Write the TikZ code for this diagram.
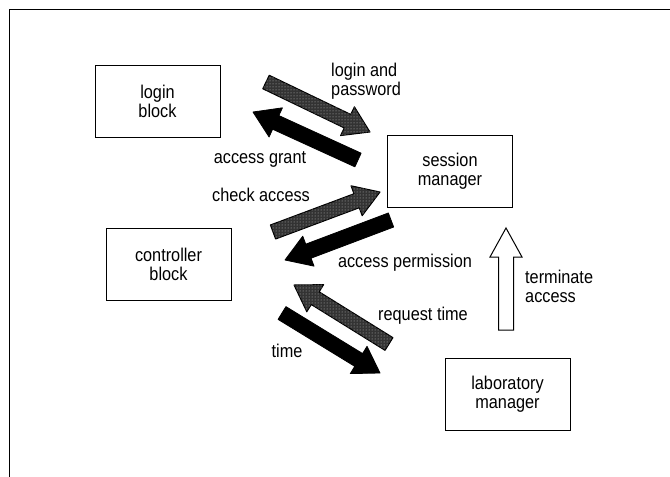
\documentclass[tikz,border=0pt]{standalone}
\usepackage{fontspec}
\setmainfont{Liberation Sans}[FakeStretch=0.88]
\usetikzlibrary{calc,patterns}
\newcommand\blockarrow[3]{%
  \path[#1] let \p1=($(#3)-(#2)$), \n1={atan2(\y1,\x1)} in
    ($(#2)+(\n1+90:\bsw)$)
    -- ($(#3)+(\n1+180:\bhl)+(\n1+90:\bsw)$)
    -- ($(#3)+(\n1+180:\bhl)+(\n1+90:\bhw)$)
    -- (#3)
    -- ($(#3)+(\n1+180:\bhl)+(\n1-90:\bhw)$)
    -- ($(#3)+(\n1+180:\bhl)+(\n1-90:\bsw)$)
    -- ($(#2)+(\n1-90:\bsw)$) -- cycle;}
\newcommand\bsw{7.5pt}
\newcommand\bhw{16pt}
\newcommand\bhl{25pt}
\begin{document}
\begin{tikzpicture}[x=1pt,y=-1pt,
  every node/.style={font=\fontsize{18.5}{19}\selectfont},
  blockbox/.style={draw=black,line width=1pt,minimum width=125pt,minimum height=72pt,align=center,inner sep=0pt},
  lbl/.style={align=left,inner sep=0pt},
  blackarrow/.style={fill=black,draw=black,line width=0.8pt,line join=round},
  grayarrow/.style={fill=black!80,draw=black,line width=1pt,line join=round,
    postaction={pattern=dots,pattern color=white!75!black}},
  whitearrow/.style={fill=white,draw=black,line width=1pt,line join=miter}]
\useasboundingbox (0,0) rectangle (670,477);
\draw[line width=1.2pt] (9.5,477) -- (9.5,9.5) -- (670,9.5);
% boxes
\node[blockbox] (login) at (157.5,101.5) {login\\block};
\node[blockbox] (session) at (450,171.5) {session\\manager};
\node[blockbox] (ctrl) at (168.5,264) {controller\\block};
\node[blockbox] (lab) at (507.5,394) {laboratory\\manager};
% labels
\node[lbl,anchor=west] (lp) at (331,81) {login and\\password};
\node[lbl] (ag) at (260,159) {access grant};
\node[lbl] (ca) at (261,195) {check access};
\node[lbl] (ap) at (405,263) {access permission};
\node[lbl,anchor=west] (ta) at (525,286) {terminate\\access};
\node[lbl] (rt) at (423,316) {request time};
\node[lbl] (tm) at (287,351) {time};
% arrow end points
\coordinate (a1s) at (266,82);  \coordinate (a1e) at (370,132);
\coordinate (a2s) at (358,160); \coordinate (a2e) at (253,112);
\coordinate (a3s) at (273,232); \coordinate (a3e) at (380,192);
\coordinate (a4s) at (391,220); \coordinate (a4e) at (285,260);
\coordinate (a5s) at (389,344); \coordinate (a5e) at (294,285);
\coordinate (a6s) at (282,313); \coordinate (a6e) at (380,373);
\coordinate (a7s) at (506,330); \coordinate (a7e) at (506,228);
\blockarrow{grayarrow}{a1s}{a1e}
\blockarrow{blackarrow}{a2s}{a2e}
\blockarrow{grayarrow}{a3s}{a3e}
\blockarrow{blackarrow}{a4s}{a4e}
\blockarrow{grayarrow}{a5s}{a5e}
\blockarrow{blackarrow}{a6s}{a6e}
\renewcommand\bsw{7.5pt}\renewcommand\bhw{16pt}\renewcommand\bhl{29pt}
\blockarrow{whitearrow}{a7s}{a7e}
\end{tikzpicture}
\end{document}
